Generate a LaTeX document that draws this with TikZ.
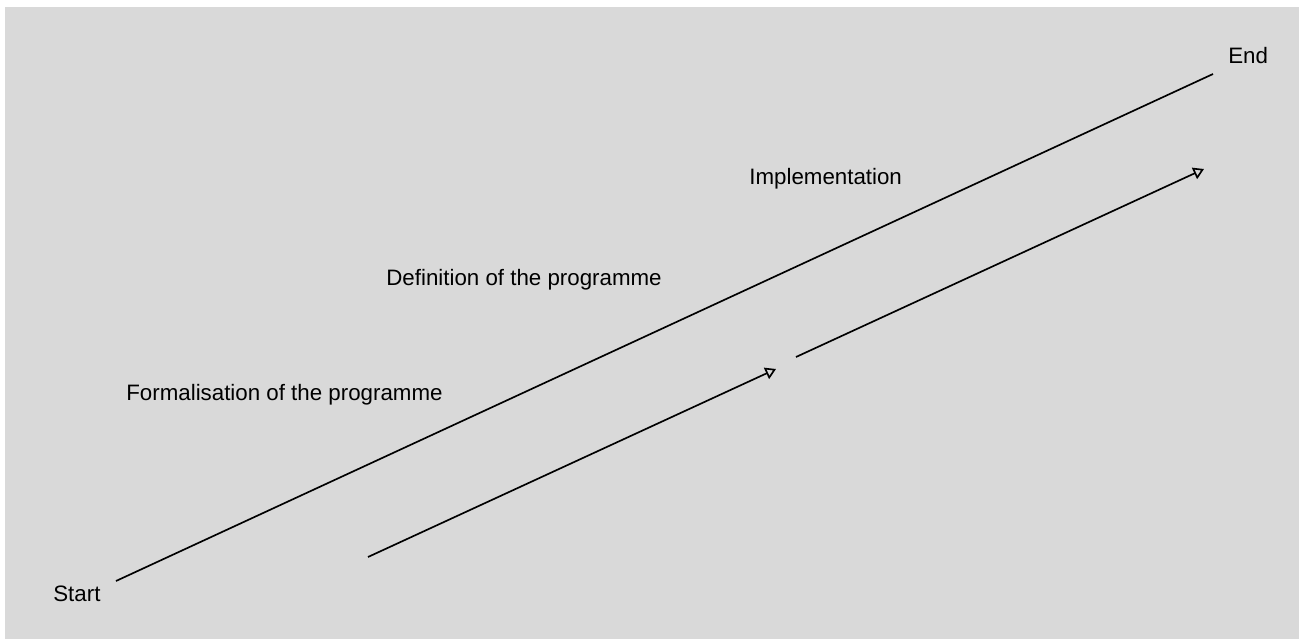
\documentclass[tikz,border=0pt]{standalone}
\usepackage{fontspec}
\setmainfont{Liberation Sans}
\usetikzlibrary{arrows.meta}
\definecolor{panel}{HTML}{D9D9D9}
\begin{document}
\begin{tikzpicture}[x=0.02cm,y=-0.02cm,
  lbl/.style={anchor=base west, inner sep=0pt, font=\fontsize{12.7}{15}\selectfont},
  phase/.style={line width=0.95pt},
  flow/.style={line width=0.95pt, -{Triangle[open, length=6pt, width=7pt]}}]
  % page and grey panel
  \useasboundingbox (0,0) rectangle (1299,639);
  \fill[white] (0,0) rectangle (1299,639);
  \fill[panel] (5,7) rectangle (1299,639);

  % labels
  \node[lbl] (start) at (53,601) {Start};
  \node[lbl] (end) at (1228,63) {End};
  \node[lbl] (impl) at (749,184) {Implementation};
  \node[lbl] (defn) at (386,285) {Definition of the programme};
  \node[lbl] (form) at (126,400) {Formalisation of the programme};

  % main diagonal from start to end
  \coordinate (s0) at (116,581);
  \coordinate (e0) at (1213,74);
  \draw[phase] (s0) -- (e0);

  % parallel progress arrows
  \coordinate (a0) at (368,557);
  \coordinate (a1) at (776,369);
  \coordinate (b0) at (796,357);
  \coordinate (b1) at (1204,169);
  \draw[flow] (a0) -- (a1);
  \draw[flow] (b0) -- (b1);
\end{tikzpicture}
\end{document}
